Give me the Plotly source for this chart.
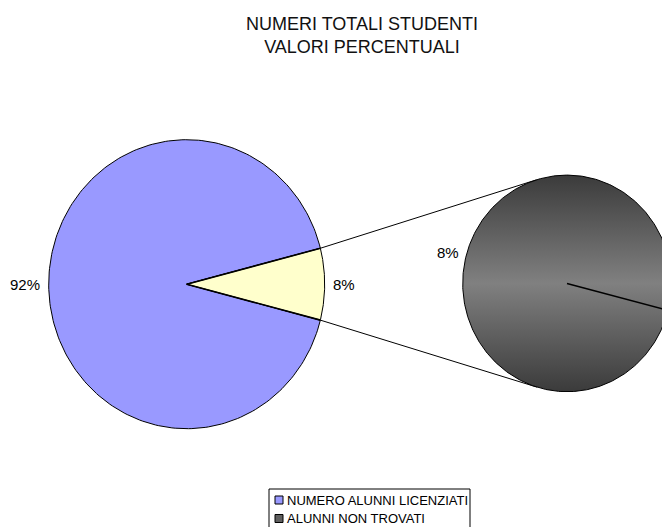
import numpy as np
import plotly.graph_objects as go

# ---------------- data ----------------
categories = ["NUMERO ALUNNI LICENZIATI", "ALUNNI NON TROVATI"]
main_values = [92, 8]          # % of total students (main pie); last = split-out slice
sub_values = [8]               # content of the second (split-out) pie
title_lines = ["NUMERI TOTALI STUDENTI", "VALORI PERCENTUALI"]

# ---------------- layout geometry / styles ----------------
W, H = 662, 527
C1, R1 = (186.7, 284.2), (138.0, 144.5)     # main pie centre / radii (px)
C2, R2 = (567.0, 283.4), (104.3, 108.3)     # second pie centre / radii (px)
FONT = "Liberation Sans, Arial, sans-serif"
MAIN_COLORS = ["#9999FF", "#FFFFCC"]
SWATCH_COLORS = ["#9999FF", "#5f5f5f"]


def ell(c, r, t_deg):
    t = np.radians(t_deg)
    return c[0] + r[0] * np.cos(t), c[1] - r[1] * np.sin(t)


def wedge(c, r, a0, a1, n=240):
    ts = np.linspace(a0, a1, n)
    xs, ys = ell(c, r, ts)
    if abs(a1 - a0) < 359.999:
        xs = np.concatenate([[c[0]], xs, [c[0]]])
        ys = np.concatenate([[c[1]], ys, [c[1]]])
    return xs, ys


fig = go.Figure()
annotations = []

# ---------- main pie ----------
total = sum(main_values)
span_other = main_values[-1] / total * 360.0
start = span_other / 2.0
angles = []
a = start
for v in main_values:
    sweep = v / total * 360.0
    angles.append((a, a + sweep))
    a += sweep

for (a0, a1), col, v in zip(angles, MAIN_COLORS, main_values):
    xs, ys = wedge(C1, R1, a0, a1)
    fig.add_trace(go.Scatter(x=xs, y=ys, mode="lines", fill="toself",
                             fillcolor=col, line=dict(color="black", width=1),
                             hoverinfo="skip", showlegend=False))
    m = (a0 + a1) / 2.0
    ex, ey = ell(C1, R1, m)
    gap = 6.5
    cm, sm = np.cos(np.radians(m)), np.sin(np.radians(m))
    annotations.append(dict(x=ex + gap * cm, y=ey - gap * sm, text=f"{v}%",
                            showarrow=False, xref="x", yref="y",
                            xanchor="right" if cm < -0.3 else ("left" if cm > 0.3 else "center"),
                            yanchor="middle", font=dict(size=15, family=FONT, color="black")))

# radial edges (slightly heavier)
rx, ry = [], []
for a0, _ in angles:
    px, py = ell(C1, R1, a0)
    rx += [C1[0], px, None]
    ry += [C1[1], py, None]
fig.add_trace(go.Scatter(x=rx, y=ry, mode="lines", line=dict(color="black", width=1.6),
                         hoverinfo="skip", showlegend=False))

# ---------- connector lines (tangents to second pie) ----------
lx, ly = [], []
for edge_angle in [angles[-1][0], angles[-1][1]]:
    px, py = ell(C1, R1, edge_angle)
    u, w = (px - C2[0]) / R2[0], (py - C2[1]) / R2[1]
    d = np.hypot(u, w)
    phi = np.arctan2(w, u)
    delta = np.arccos(1.0 / d)
    cands = [phi + delta, phi - delta]
    ws = [np.sin(cc) for cc in cands]
    sel = cands[int(np.argmin(ws))] if (py < C2[1]) else cands[int(np.argmax(ws))]
    tx, ty = C2[0] + R2[0] * np.cos(sel), C2[1] + R2[1] * np.sin(sel)
    lx += [px, tx, None]
    ly += [py, ty, None]
fig.add_trace(go.Scatter(x=lx, y=ly, mode="lines", line=dict(color="black", width=1),
                         hoverinfo="skip", showlegend=False))

# ---------- second pie ----------
sub_total = sum(sub_values)
a = -span_other / 2.0
for v in sub_values:
    sweep = v / sub_total * 360.0
    xs, ys = wedge(C2, R2, a, a + sweep, n=400)
    fig.add_trace(go.Scatter(x=xs, y=ys, mode="lines", fill="toself",
                             fillgradient=dict(type="vertical",
                                               colorscale=[[0, "#3b3b3b"], [0.5, "#808080"], [1, "#3b3b3b"]]),
                             line=dict(color="black", width=1),
                             hoverinfo="skip", showlegend=False))
    # radial boundary
    px, py = ell(C2, R2, a)
    fig.add_trace(go.Scatter(x=[C2[0], px], y=[C2[1], py], mode="lines",
                             line=dict(color="black", width=1.6),
                             hoverinfo="skip", showlegend=False))
    m = a + sweep / 2.0
    ex, ey = ell(C2, R2, m)
    gap = 5
    cm, sm = np.cos(np.radians(m)), np.sin(np.radians(m))
    annotations.append(dict(x=ex + gap * cm, y=ey - gap * sm - 3, text=f"{main_values[-1] * v // sub_total}%",
                            showarrow=False, xref="x", yref="y",
                            xanchor="right" if cm < -0.3 else ("left" if cm > 0.3 else "center"),
                            yanchor="middle", font=dict(size=15, family=FONT, color="black")))
    a += sweep

# ---------- title ----------
annotations.append(dict(x=362, y=35, xref="x", yref="y", showarrow=False,
                        text="<br>".join(title_lines), align="center",
                        xanchor="center", yanchor="middle",
                        font=dict(size=18, family=FONT, color="#111111")))

# ---------- legend (drawn) ----------
shapes = [dict(type="rect", xref="x", yref="y", x0=269, y0=489, x1=470, y1=540,
               line=dict(color="black", width=1), fillcolor="white", layer="below")]
for i, (name, col) in enumerate(zip(categories, SWATCH_COLORS)):
    yc = 500 + 18.5 * i
    shapes.append(dict(type="rect", xref="x", yref="y", x0=275, y0=yc - 4, x1=283, y1=yc + 4,
                       line=dict(color="black", width=1), fillcolor=col))
    annotations.append(dict(x=285, y=yc, xref="x", yref="y", showarrow=False, text=name,
                            xanchor="left", yanchor="middle",
                            font=dict(size=13, family=FONT, color="black")))

fig.update_layout(
    width=W, height=H, autosize=False,
    margin=dict(l=0, r=0, t=0, b=0),
    paper_bgcolor="white", plot_bgcolor="white",
    xaxis=dict(range=[0, W], visible=False, fixedrange=True),
    yaxis=dict(range=[H, 0], visible=False, fixedrange=True),
    annotations=annotations, shapes=shapes, showlegend=False,
)

fig.write_html("out.html", config={"displayModeBar": False},
               post_script="document.body.style.margin='0px';document.body.style.overflow='hidden';")
